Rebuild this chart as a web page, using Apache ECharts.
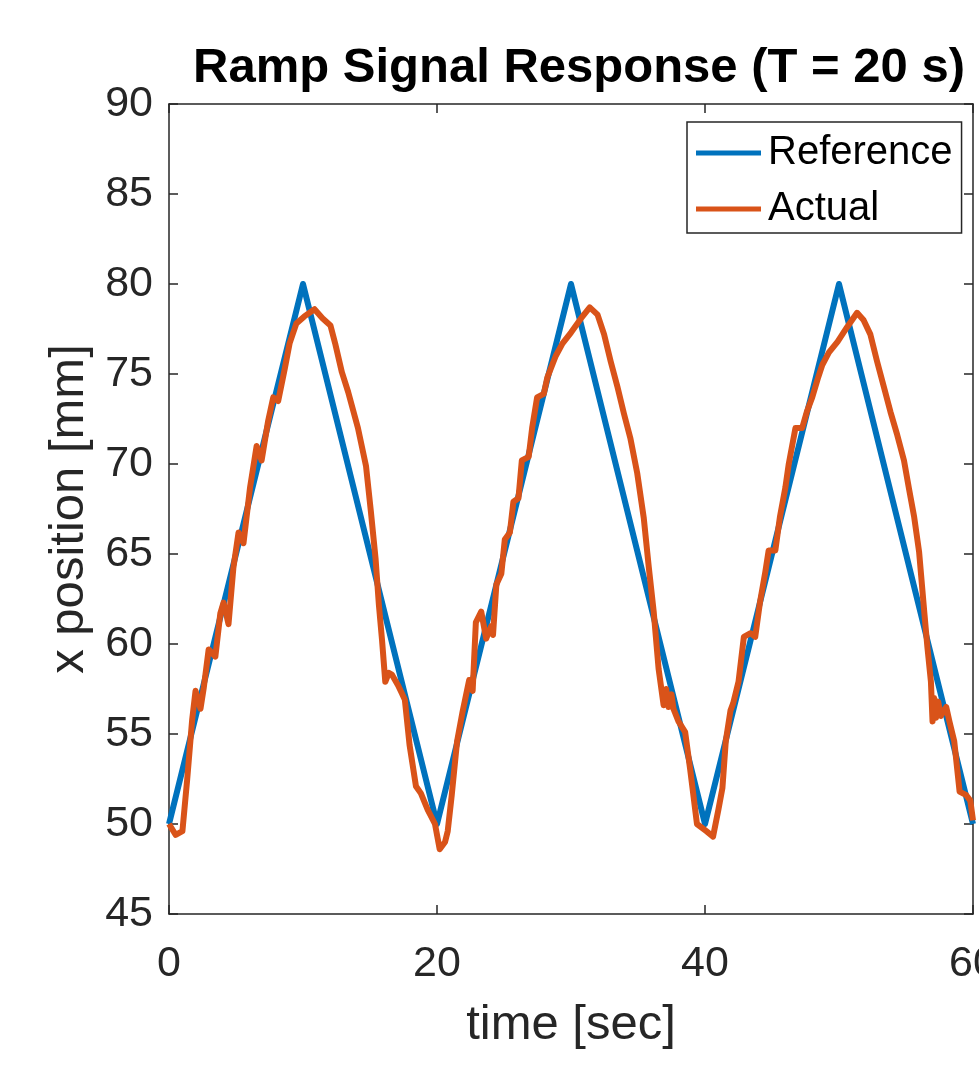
<!DOCTYPE html>
<html>
<head>
<meta charset="utf-8">
<script src="https://cdn.jsdelivr.net/npm/echarts@6/dist/echarts.min.js"></script>
<style>
html,body{margin:0;padding:0;background:#fff;}
#chart{width:979px;height:1065px;}
</style>
</head>
<body>
<div id="chart"></div>
<script>
// Reference ramp signal
const refTime  = [0, 10, 20, 30, 40, 50, 60];
const refValue = [50, 80, 50, 80, 50, 80, 50];

// Measured actual response
const actTime = [
  0, 0.5, 1.0, 1.36, 1.73, 1.98, 2.35, 2.6, 2.96, 3.46, 3.83, 4.07, 4.44, 4.8, 5.19, 5.56, 6.05, 6.54, 6.91, 7.4, 7.78, 8.15, 8.64, 9.0, 9.5, 10.1, 10.86,
  11.45, 12.05, 12.4, 12.9, 13.37, 14.1, 14.7, 15.06, 15.42, 15.66, 15.9, 16.14, 16.4, 16.63, 17.1, 17.35, 17.6, 17.95, 18.43, 18.8, 19.3, 19.85, 20.2, 20.6, 20.8, 21.1, 21.5, 21.9,
  22.4, 22.66, 22.9, 23.3, 23.67, 24.05, 24.18, 24.43, 24.8, 25.06, 25.44, 25.7, 26.08, 26.33, 26.84, 27.1, 27.47, 27.97, 28.23, 28.86, 29.37, 30.0, 30.76, 31.4,
  31.98, 32.47, 32.96, 33.46, 33.95, 34.44, 34.94, 35.43, 35.8, 36.17, 36.54, 36.91, 37.1, 37.28, 37.5, 37.65, 38.02, 38.52, 38.9, 39.4, 40.1, 40.6, 41.0, 41.3, 41.55, 41.9,
  42.1, 42.5, 42.9, 43.4, 43.75, 44.1, 44.5, 44.75, 45.25, 45.6, 46.0, 46.25, 46.75, 47.25, 47.6, 48.0, 48.4, 48.75, 49.25, 49.9, 50.6, 51.35,
  51.83, 52.34, 52.84, 53.34, 53.84, 54.35, 54.85, 55.23, 55.6, 55.98, 56.36, 56.6, 56.86, 56.98, 57.1, 57.24, 57.4, 57.6, 58.0, 58.24, 58.6, 59.0, 59.5, 59.8, 60.0
];
const actValue = [
  50.0, 49.4, 49.6, 52.5, 55.8, 57.4, 56.4, 57.6, 59.7, 59.3, 61.7, 62.3, 61.1, 64.2, 66.2, 65.6, 68.7, 71.0, 70.2, 72.4, 73.7, 73.5, 75.3, 76.7, 77.8, 78.2, 78.6,
  78.1, 77.7, 76.7, 75.1, 74.0, 72.0, 69.9, 67.4, 64.7, 62.2, 60.2, 57.9, 58.4, 58.3, 57.7, 57.3, 56.9, 54.4, 52.1, 51.7, 50.8, 50.0, 48.6, 49.0, 49.6, 51.6, 54.6, 56.2,
  58.0, 57.4, 61.2, 61.8, 60.3, 61.0, 60.5, 63.3, 63.9, 65.8, 66.2, 67.9, 68.1, 70.2, 70.4, 72.0, 73.7, 73.9, 74.8, 76.0, 76.7, 77.3, 78.1, 78.7,
  78.3, 77.2, 75.7, 74.3, 72.8, 71.4, 69.5, 67.0, 64.3, 61.8, 58.6, 56.6, 57.5, 56.5, 57.2, 56.4, 55.7, 55.1, 53.0, 50.0, 49.6, 49.3, 50.8, 52.0, 54.6, 56.3,
  56.7, 57.9, 60.4, 60.6, 60.4, 62.3, 64.0, 65.2, 65.2, 67.1, 68.7, 70.0, 72.0, 72.0, 72.9, 73.7, 74.7, 75.5, 76.2, 76.8, 77.6, 78.4,
  78.0, 77.2, 75.7, 74.3, 72.9, 71.6, 70.2, 68.6, 67.1, 65.1, 61.8, 59.8, 57.9, 55.7, 57.0, 55.9, 56.8, 56.0, 56.5, 55.7, 54.6, 51.8, 51.6, 51.3, 50.2
];

const seriesNames = ['Reference', 'Actual'];
const seriesColors = ['#0072BD', '#D95319'];
const titleText = 'Ramp Signal Response (T = 20 s)';
const xLabel = 'time [sec]';
const yLabel = 'x position [mm]';

const FONT = '"Liberation Sans", Arial, Helvetica, sans-serif';
const AX = '#262626';

const chart = echarts.init(document.getElementById('chart'), null, {renderer: 'canvas'});

const pair = (xs, ys) => xs.map((x, i) => [x, ys[i]]);

const axisCommon = {
  axisLine: {show: true, onZero: false, lineStyle: {color: AX, width: 1.5}},
  axisTick: {show: true, inside: true, length: 9, lineStyle: {color: AX, width: 1.5}},
  splitLine: {show: false}
};

chart.setOption({
  animation: false,
  backgroundColor: '#fff',
  title: {
    text: titleText,
    left: 574,
    top: 39,
    textAlign: 'center',
    textStyle: {fontFamily: FONT, fontSize: 49, fontWeight: 'bold', color: '#000'}
  },
  legend: {
    data: seriesNames,
    orient: 'vertical',
    left: 687,
    top: 122,
    icon: 'rect',
    itemWidth: 65,
    itemHeight: 5,
    itemGap: 12,
    padding: [9, 9, 2, 9],
    backgroundColor: '#fff',
    borderColor: AX,
    borderWidth: 1.5,
    borderRadius: 0,
    textStyle: {fontFamily: FONT, fontSize: 40, color: '#000', lineHeight: 44, padding: [0, 0, 0, 2]}
  },
  grid: {left: 169, right: 6, top: 104, bottom: 151, containLabel: false, outerBoundsMode: 'none'},
  xAxis: [
    Object.assign({}, axisCommon, {
      type: 'value', position: 'bottom', min: 0, max: 60, interval: 20,
      name: xLabel, nameLocation: 'middle', nameGap: 87,
      nameTextStyle: {fontFamily: FONT, fontSize: 49, color: AX},
      axisLabel: {fontFamily: FONT, fontSize: 43, color: AX, margin: 29}
    }),
    Object.assign({}, axisCommon, {
      type: 'value', position: 'top', min: 0, max: 60, interval: 20,
      axisLabel: {show: false}
    })
  ],
  yAxis: [
    Object.assign({}, axisCommon, {
      type: 'value', position: 'left', min: 45, max: 90, interval: 5,
      name: yLabel, nameLocation: 'middle', nameGap: 63,
      nameTextStyle: {fontFamily: FONT, fontSize: 49, color: AX},
      axisLabel: {fontFamily: FONT, fontSize: 43, color: AX, margin: 16}
    }),
    Object.assign({}, axisCommon, {
      type: 'value', position: 'right', min: 45, max: 90, interval: 5,
      axisLabel: {show: false}
    })
  ],
  series: [
    {
      name: seriesNames[0], type: 'line', data: pair(refTime, refValue),
      showSymbol: false, symbol: 'none',
      lineStyle: {color: seriesColors[0], width: 6, join: 'round'},
      itemStyle: {color: seriesColors[0]}, z: 2
    },
    {
      name: seriesNames[1], type: 'line', data: pair(actTime, actValue),
      showSymbol: false, symbol: 'none',
      lineStyle: {color: seriesColors[1], width: 6, join: 'round'},
      itemStyle: {color: seriesColors[1]}, z: 3
    }
  ]
});
</script>
</body>
</html>
